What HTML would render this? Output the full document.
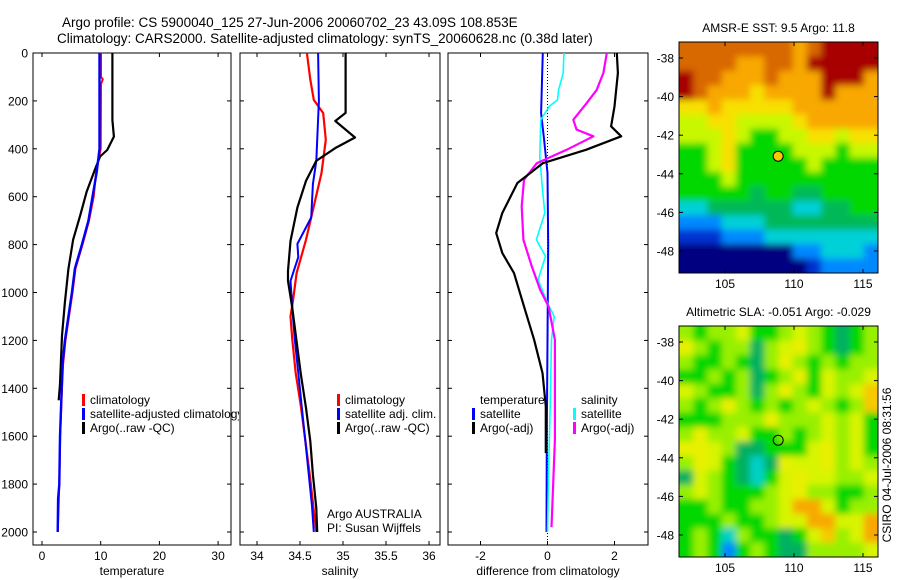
<!DOCTYPE html>
<html><head><meta charset="utf-8"><style>
body{margin:0;background:#fff}
svg{display:block;font-family:"Liberation Sans",sans-serif}
</style></head><body>
<svg id="c" width="900" height="580" viewBox="0 0 900 580">
<defs><clipPath id="clip1"><rect x="0" y="0" width="239" height="580"/></clipPath>
<clipPath id="mc1"><rect x="679" y="42" width="199" height="231"/></clipPath>
<clipPath id="mc2"><rect x="679" y="326" width="199" height="231"/></clipPath>
<filter id="bl" x="-5%" y="-5%" width="110%" height="110%"><feGaussianBlur stdDeviation="3.5"/></filter></defs>
<text x="62" y="27" font-size="13.5">Argo profile: CS 5900040_125 27-Jun-2006 20060702_23 43.09S 108.853E</text>
<text x="57" y="43" font-size="13.5">Climatology: CARS2000. Satellite-adjusted climatology: synTS_20060628.nc (0.38d later)</text>
<g id="g"></g>
</svg>
<script>
// depth axis
const depthTicks=[0,200,400,600,800,1000,1200,1400,1600,1800,2000];
// panel 1 temperature
const tempTicks=[0,10,20,30];
const tClimD=[0,100,110,130,400,500,600,700,800,900,1000,1100,1200,1300,1400,1600,1800,2000];
const tClimV=[10.05,10.05,10.35,10.05,10.0,9.2,8.8,8.0,6.9,5.7,5.2,4.6,4.0,3.6,3.4,3.1,2.95,2.7];
const tSatD=[0,400,500,600,700,800,900,1000,1100,1200,1300,1400,1600,1800,1860,2000];
const tSatV=[9.8,9.8,9.3,8.6,7.9,6.8,5.6,5.1,4.5,3.9,3.5,3.35,3.07,2.95,2.75,2.67];
const tArgoD=[0,280,349,405,432,488,580,678,780,902,1041,1180,1382,1450];
const tArgoV=[12.0,12.0,12.25,11.1,9.9,9.0,7.6,6.5,5.3,4.5,3.9,3.4,3.07,2.85];
// panel 2 salinity
const salTicks=[34,34.5,35,35.5,36];
const sClimD=[0,111,196,251,362,501,640,780,919,1030,1100,1197,1336,1475,1614,1753,2000];
const sClimV=[34.58,34.62,34.66,34.77,34.80,34.75,34.66,34.57,34.46,34.42,34.39,34.41,34.45,34.51,34.56,34.61,34.69];
const sSatD=[0,200,450,548,687,797,852,952,1065,1197,1336,1475,1614,1753,1892,2000];
const sSatV=[34.71,34.72,34.69,34.65,34.63,34.47,34.48,34.39,34.41,34.44,34.48,34.52,34.56,34.60,34.64,34.66];
const sArgoD=[0,250,284,353,395,450,534,645,785,910,952,1065,1204,1343,1482,1621,1760,1900,2000];
const sArgoV=[35.03,35.03,34.91,35.14,34.92,34.69,34.57,34.47,34.39,34.36,34.36,34.41,34.46,34.51,34.57,34.62,34.65,34.69,34.70];
// panel 3 differences
const diffTicks=[-2,0,2];
const dTSatD=[0,100,251,362,501,800,1200,1600,2000];
const dTSatV=[-0.14,-0.16,-0.19,-0.10,0.0,0.02,0.0,-0.02,-0.03];
const dSSatD=[0,83,154,196,223,279,432,571,668,780,849,947,1044,1100,1197,1475,1753,2000];
const dSSatV=[0.49,0.47,0.33,0.30,0.05,-0.2,-0.23,-0.15,-0.08,-0.33,-0.06,-0.28,0.0,0.2,0.12,0.08,0.03,0.0];
const dSArgoD=[0,83,154,209,279,320,348,404,460,529,640,780,891,988,1058,1197,1336,1614,1980];
const dSArgoV=[1.77,1.67,1.47,1.17,0.77,0.87,1.37,0.57,-0.32,-0.70,-0.77,-0.72,-0.47,-0.22,0.03,0.22,0.22,0.22,0.12];
const dTArgoD=[0,83,223,306,348,404,460,543,668,752,835,919,1058,1197,1336,1475,1670];
const dTArgoV=[2.07,2.10,2.0,1.9,2.2,1.15,-0.14,-0.9,-1.35,-1.53,-1.35,-1.0,-0.7,-0.4,-0.15,-0.05,-0.05];
// maps
const lonTicks=[105,110,115];
const latTicks=[-38,-40,-42,-44,-46,-48];
const argoLon=108.853, argoLat=-43.09;
const sstGrid=["OOOOOOOOoORRRR","OOOOooOOoRRRRR","ROOoooOoooRRRo","ROoooYooooRooo","YYoYYYYYoooooo","yyYYyyyyYooooo","yyyYyGGyyYYyYY","GGyYGGGGyyyGyy","GGyYGGGGGyGGGG","GGGyGGGGGGGGGG","GGGGGgGGggGGGG","ccggggggccggGG","bbbcccgggggggg","BBBbbbcccccccc","NNNNNNNNbbcccb","NNNNNNNNNBbbbb"];
const slaGrid=["lGllyGGlylGgGl","YlGllglyYlGgGl","lGGlGglYlGlGll","GGlGlgGlYGylly","ylGGlglYlGylyo","lGlYlGlGlylGlo","GGGlllYlllylyG","lYllyGGlGlylyG","YYylggGGGyYlyG","lYyGgcgYyyYlyl","gylGgcGyYyylly","lylGGGlyYllGGl","GGlGGllyOOyGll","GGGlGGlyyOOyyO","GlGclGGgGyolyO","GlGbGlGgglllly"];

const NS="http://www.w3.org/2000/svg";
const G=document.getElementById('g');
function mk(t,a,p){const e=document.createElementNS(NS,t);for(const k in a)e.setAttribute(k,a[k]);(p||G).appendChild(e);return e;}
const Y0=53,Y1=545;
const yD=d=>53+d*0.2395;
const xT=v=>42+v*5.87;
const xS=v=>257+(v-34)*86;
const xDf=v=>547.5+v*33.5;

function panel(x0,x1,name,xf,ticks,xlabel,ylab){
  const g=mk('g',{});
  
  
  const r=mk('rect',{x:x0,y:Y0,width:x1-x0,height:Y1-Y0,fill:'#fff',stroke:'#000','stroke-width':1},g);
  
  
  depthTicks.forEach(d=>{
    mk('line',{x1:x0,x2:x0+4,y1:yD(d),y2:yD(d),stroke:'#000'},g);
    mk('line',{x1:x1-4,x2:x1,y1:yD(d),y2:yD(d),stroke:'#000'},g);
    if(ylab){const t=mk('text',{x:28,y:yD(d)+4.5,'font-size':12,'text-anchor':'end'},g);t.textContent=d;
      
      }
  });
  ticks.forEach(v=>{
    const x=xf(v);
    mk('line',{x1:x,x2:x,y1:Y0,y2:Y0+4,stroke:'#000'},g);
    mk('line',{x1:x,x2:x,y1:Y1-4,y2:Y1,stroke:'#000'},g);
    const t=mk('text',{x:x,y:560,'font-size':12,'text-anchor':'middle'},g);t.textContent=v;
    
    
  });
  const xl=mk('text',{x:(x0+x1)/2,y:575,'font-size':12,'text-anchor':'middle'},g);xl.textContent=xlabel;
  
  
  return g;
}
function line(g,D,V,xf,col,w,name){
  const p=D.map((d,i)=>xf(V[i]).toFixed(1)+','+yD(d).toFixed(1)).join(' ');
  const e=mk('polyline',{points:p,fill:'none',stroke:col,'stroke-width':w,'stroke-linejoin':'round'},g);
  
  
}
function legend(g,x,y,items,clip){
  const lg=mk('g',clip?{'clip-path':'url(#clip1)'}:{},g);
  
  
  items.forEach((it,i)=>{
    const yy=y+i*14;
    if(it[0]){const m=mk('rect',{x:x,y:yy-10,width:3,height:12,fill:it[0]},lg);
      
      }
    const t=mk('text',{x:x+8,y:yy,'font-size':12},lg);t.textContent=it[1];
    
    
  });
}
// Panel 1
const p1=panel(33,231,'temperature-panel',xT,tempTicks,'temperature',true);
line(p1,tClimD,tClimV,xT,'#f00',2,'climatology-temperature-line');
line(p1,tArgoD,tArgoV,xT,'#000',2.2,'argo-temperature-line');
line(p1,tSatD,tSatV,xT,'#00f',2.4,'satellite-temperature-line');
legend(p1,82,404,[['#f00','climatology'],['#00f','satellite-adjusted climatology'],['#000','Argo(..raw -QC)']],true);
// Panel 2
const p2=panel(240,440,'salinity-panel',xS,salTicks,'salinity',false);
line(p2,sClimD,sClimV,xS,'#f00',2.2,'climatology-salinity-line');
line(p2,sSatD,sSatV,xS,'#00f',2,'satellite-salinity-line');
line(p2,sArgoD,sArgoV,xS,'#000',2.2,'argo-salinity-line');
legend(p2,337,404,[['#f00','climatology'],['#00f','satellite adj. clim.'],['#000','Argo(..raw -QC)']]);
const a1=mk('text',{x:327,y:518,'font-size':12},p2);a1.textContent='Argo AUSTRALIA';


const a2=mk('text',{x:327,y:532,'font-size':12},p2);a2.textContent='PI: Susan Wijffels';


// Panel 3
const p3=panel(448,648,'difference-panel',xDf,diffTicks,'difference from climatology',false);
const zl=mk('line',{x1:xDf(0),x2:xDf(0),y1:Y0,y2:Y1,stroke:'#000','stroke-dasharray':'1,2'},p3);


line(p3,dTSatD,dTSatV,xDf,'#00f',2,'temperature-satellite-diff-line');
line(p3,dSSatD,dSSatV,xDf,'#0ff',1.6,'salinity-satellite-diff-line');
line(p3,dSArgoD,dSArgoV,xDf,'#f0f',2.2,'salinity-argo-diff-line');
line(p3,dTArgoD,dTArgoV,xDf,'#000',2.2,'temperature-argo-diff-line');
legend(p3,472,404,[[null,'temperature'],['#00f','satellite'],['#000','Argo(-adj)']]);
legend(p3,573,404,[[null,'salinity'],['#0ff','satellite'],['#f0f','Argo(-adj)']]);

// Maps
const pal={R:'#a80000',O:'#d86800',o:'#f8a800',Y:'#f8e000',y:'#c8f800',G:'#00d800',g:'#00b858',c:'#00d0d8',b:'#0088ff',B:'#0030d0',N:'#000080',l:'#98f000'};
const slaPal=Object.assign({},pal,{Y:'#e8f000',y:'#d8f400',O:'#f8a800',o:'#f8c800',c:'#00d0c8',g:'#00b060'});
function map(top,name,grid,P,title,dotFill,clipId){
  const x0=679,x1=878,y0=top,y1=top+231;
  const lx=v=>725+(v-105)*13.8;
  const ly=v=>(y0+16)+(-38-v)*19.3;
  const g=mk('g',{});
  
  
  const cg=mk('g',{'clip-path':'url(#'+clipId+')'},g);
  const fg=mk('g',{filter:'url(#bl)'},cg);
  const rows=grid.length,cols=grid[0].length,cw=(x1-x0)/cols,ch=(y1-y0)/rows;
  grid.forEach((row,r)=>{for(let c=0;c<cols;c++){
    // extend edge cells outward so blur doesn't fade at the border
    const ex0=c===0?-10:0, ex1=c===cols-1?10:0, ey0=r===0?-10:0, ey1=r===rows-1?10:0;
    const e=mk('rect',{x:x0+c*cw+ex0,y:y0+r*ch+ey0,width:cw+0.6-ex0+ex1,height:ch+0.6-ey0+ey1,fill:P[row[c]]},fg);
    
    
  }});
  mk('rect',{x:x0,y:y0,width:x1-x0,height:y1-y0,fill:'none',stroke:'#000'},g);
  lonTicks.forEach(v=>{const x=lx(v);
    mk('line',{x1:x,x2:x,y1:y0,y2:y0+4,stroke:'#000'},g);mk('line',{x1:x,x2:x,y1:y1-4,y2:y1,stroke:'#000'},g);
    const t=mk('text',{x:x,y:y1+15,'font-size':12,'text-anchor':'middle'},g);t.textContent=v;
    
    });
  latTicks.forEach(v=>{const y=ly(v);
    mk('line',{x1:x0,x2:x0+4,y1:y,y2:y,stroke:'#000'},g);mk('line',{x1:x1-4,x2:x1,y1:y,y2:y,stroke:'#000'},g);
    const t=mk('text',{x:674,y:y+4.5,'font-size':12,'text-anchor':'end'},g);t.textContent=v;
    
    });
  const tt=mk('text',{x:(x0+x1)/2,y:y0-10,'font-size':12,'text-anchor':'middle'},g);tt.textContent=title;
  
  
  const d=mk('circle',{cx:lx(argoLon),cy:ly(argoLat),r:5,fill:dotFill,stroke:'#000','stroke-width':1},g);
  
  
}
map(42,'sst-map',sstGrid,pal,'AMSR-E SST: 9.5 Argo: 11.8','#f8c800','mc1');
map(326,'sla-map',slaGrid,slaPal,'Altimetric SLA: -0.051 Argo: -0.029','none','mc2');
const cs=mk('text',{x:0,y:0,'font-size':12,'text-anchor':'middle',transform:'translate(891,465) rotate(-90)'});
cs.textContent='CSIRO 04-Jul-2006 08:31:56';


</script>
</body></html>
